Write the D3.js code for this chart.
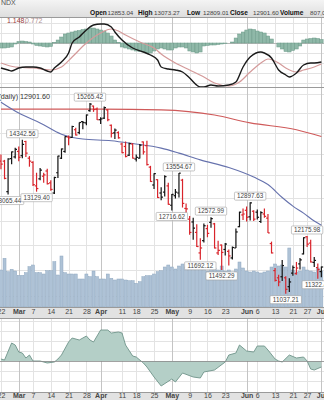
<!DOCTYPE html>
<html><head><meta charset="utf-8">
<script src="https://cdn.jsdelivr.net/npm/d3@7"></script>
<style>
html,body{margin:0;padding:0;background:#fff;overflow:hidden}
svg{display:block;font-family:"Liberation Sans",Arial,sans-serif}
</style></head><body>
<svg id="chart" width="324" height="400"></svg>
<script>
// Trading days shown (2022)
const days = [
 "02-22","02-23","02-24","02-25","02-28","03-01","03-02","03-03","03-04",
 "03-07","03-08","03-09","03-10","03-11","03-14","03-15","03-16","03-17","03-18",
 "03-21","03-22","03-23","03-24","03-25","03-28","03-29","03-30","03-31","04-01",
 "04-04","04-05","04-06","04-07","04-08","04-11","04-12","04-13","04-14",
 "04-18","04-19","04-20","04-21","04-22","04-25","04-26","04-27","04-28","04-29",
 "05-02","05-03","05-04","05-05","05-06","05-09","05-10","05-11","05-12","05-13",
 "05-16","05-17","05-18","05-19","05-20","05-23","05-24","05-25","05-26","05-27",
 "05-31","06-01","06-02","06-03","06-06","06-07","06-08","06-09","06-10",
 "06-13","06-14","06-15","06-16","06-17","06-21","06-22","06-23","06-24",
 "06-27","06-28","06-29","06-30","07-01"];

const priorClose = 13870;
const open = [13830,13830,13130,13890,13930,14060,13960,14300,13900,
 13800,13260,13420,13480,13600,13330,13100,13560,13900,14060,
 14410,14400,14590,14520,14790,14760,15070,15190,15110,14840,
 14880,15090,14700,14510,14520,14240,14180,13970,14240,
 13880,13900,14290,14200,13690,13280,13400,13100,13120,13260,
 12830,13040,13100,13390,12760,12530,12470,12250,11830,12080,
 12330,12460,12430,11830,11990,11900,11860,11730,11930,12370,
 12620,12720,12580,12700,12680,12480,12640,12550,12020,
 11480,11340,11360,11340,11170,11430,11420,11610,11810,
 12160,12030,11640,11540,11460];
const high = [13990,13860,13900,14060,14150,14180,14342.56,14320,13950,
 13830,13560,13670,13560,13650,13390,13470,13960,14130,14430,
 14450,14690,14640,14770,14810,14970,15265.42,15200,15150,14900,
 15180,15110,14720,14620,14550,14270,14300,14270,14260,
 13990,14240,14300,14320,13720,13550,13410,13230,13500,13330,
 13080,13190,13554.67,13420,12870,12600,12560,12420,12130,12440,
 12410,12572.99,12450,12080,12000,12030,11900,11960,12330,12690,
 12760,12800,12897.63,12720,12740,12700,12760,12640,12060,
 11530,11400,11690,11370,11330,11580,11650,11730,12150,
 12175.98,12100,11750,11620,11560];
const low = [13640,13410,13065.44,13760,13890,13830,13900,13930,13700,
 13260,13129.40,13390,13330,13290,13150,13080,13440,13880,14030,
 14210,14390,14450,14480,14600,14700,15040,15040,14830,14730,
 14860,14800,14400,14360,14370,14020,13920,13950,13890,
 13820,13890,13990,13730,13350,13190,12990,12940,13020,12840,
 12716.62,12980,13000,12780,12540,12200,12100,11950,11692.12,12040,
 12150,12350,11920,11790,11492.29,11780,11580,11700,11930,12360,
 12510,12480,12500,12490,12520,12450,12560,12240,11820,
 11270,11180,11280,11037.21,11070,11380,11400,11500,11800,
 11950,11640,11550,11322.42,11350];
const close = [13760,13430,13880,14050,14110,13920,14230,14020,13830,
 13290,13200,13620,13510,13310,13180,13450,13950,14120,14420,
 14390,14670,14460,14770,14770,14960,15240,15100,14840,14860,
 15150,14840,14500,14580,14390,14030,13940,14250,13900,
 13920,14210,14050,13750,13360,13540,13000,13010,13470,12850,
 13070,13120,13550,12870,12750,12250,12340,11960,11930,12390,
 12230,12540,11930,11880,11840,12010,11770,11940,12260,12680,
 12640,12570,12880,12530,12570,12670,12590,12240,11830,
 11290,11260,11580,11120,11260,11540,11530,11690,12140,
 12010,11650,11680,11500,11550];
const volume = [3700,4870,3530,3770,3600,3170,3170,3430,4030,
 4200,3430,3430,3300,3630,3630,4530,3200,5100,3430,
 3300,3300,3300,2800,2800,3300,3030,3600,3030,2800,
 2800,3300,2870,2700,2800,2800,2700,2630,2630,
 2370,2530,3030,3130,3130,3300,3530,3630,4000,4200,
 4000,3800,4100,4300,4000,4400,4200,4100,4300,3800,
 3600,3800,3900,3700,4100,3600,3700,3500,3800,4500,
 3900,3600,3500,3600,3500,3400,3500,3600,4000,
 4300,4100,4200,4000,5900,3700,3500,3600,4000,
 3700,3600,3500,3900,3600];

// Swing points that carry a value tag
const highTags = ["03-02","03-29","05-04","05-17","06-02","06-27"];
const lowTags = ["02-24","03-08","05-02","05-12","05-20","06-16","06-30"];

// Moving averages (50-day blue, 200-day red)
const ma50Days = ["02-22","03-01","03-09","03-17","03-25","04-06","04-14","04-27","05-04","05-12","05-24","06-03","06-09","06-15","06-21","06-24","06-29","07-01"];
const ma50 = [15290,15010,14760,14480,14360,14320,14250,14140,14020,13860,13680,13460,13290,13000,12810,12660,12490,12400];
const ma200Days = ["02-22","03-07","04-01","04-27","05-18","06-02","06-22","07-01"];
const ma200 = [15110,15110,15110,15090,14960,14760,14590,14420];

// PPO (12,26,9): line, signal and histogram
const ppoDays = ["02-22","02-24","02-25","03-01","03-03","03-07","03-09","03-11","03-14","03-15","03-17","03-21","03-22","03-24","03-28","03-30","04-01","04-04","04-06","04-07","04-11","04-14","04-20","04-22","04-26","04-27","04-29","05-03","05-05","05-09","05-12","05-13","05-17","05-19","05-24","05-26","05-31","06-02","06-07","06-08","06-10","06-14","06-16","06-17","06-22","06-24","06-28","06-29","07-01"];
const ppoLine = [-2.5,-2.7,-2.8,-2.5,-2.4,-2.4,-2.5,-2.8,-2.9,-2.5,-1.9,-1.0,0,0.6,1.3,1.8,1.9,1.9,1.6,1.1,0.3,-0.5,-0.9,-1.2,-1.7,-2.4,-2.6,-2.7,-2.9,-3.5,-4.4,-4.4,-4.2,-4.3,-4.2,-3.9,-2.4,-1.4,-0.9,-1.0,-1.5,-2.7,-3.2,-3.4,-3.0,-2.2,-2.0,-2.0,-1.9];
const sigDays = ["02-22","02-28","03-07","03-14","03-17","03-22","03-28","04-01","04-06","04-08","04-12","04-19","04-25","04-27","05-03","05-09","05-13","05-18","05-24","05-27","06-02","06-07","06-09","06-14","06-16","06-22","06-24","06-29","07-01"];
const sigLine = [-2.0,-2.4,-2.5,-2.7,-2.4,-1.4,0,1.0,1.4,1.2,0.8,0.1,-0.5,-1.1,-2.0,-2.7,-3.4,-4.0,-4.3,-3.9,-2.9,-2.0,-1.6,-2.0,-2.5,-2.9,-2.7,-2.4,-2.1];
const ppoHist = [-0.5,-0.5,-0.45,-0.4,-0.1,0.15,0.2,0.15,0.1,
 -0.1,-0.25,-0.3,-0.35,-0.4,-0.35,0.05,0.3,0.6,0.9,
 1.0,1.1,1.2,1.25,1.35,1.4,1.5,1.5,1.4,1.3,
 1.2,1.0,0.7,0.3,0.05,-0.4,-0.5,-0.6,-0.7,
 -0.8,-0.85,-0.9,-1.0,-1.0,-0.8,-0.6,-0.5,-0.6,-0.7,
 -0.7,-0.5,-0.4,-0.4,-0.5,-0.8,-0.9,-1.0,-0.9,-0.3,
 -0.25,-0.2,-0.2,-0.15,-0.1,-0.05,0,0.1,0.5,0.9,
 1.1,1.3,1.4,1.35,1.2,1.1,1.0,0.7,0.4,
 0,-0.4,-0.6,-0.85,-0.9,-0.75,-0.6,-0.3,0.3,
 0.4,0.45,0.5,0.45,0.35];

// Lower oscillator
const oscDays = ["02-22","02-23","02-25","02-28","03-01","03-02","03-03","03-04","03-07","03-09","03-11","03-15","03-16","03-17","03-21","03-22","03-24","03-28","03-29","03-30","04-01","04-05","04-06","04-08","04-11","04-12","04-14","04-18","04-20","04-21","04-25","04-27","05-02","05-03","05-05","05-10","05-12","05-13","05-18","05-23","05-24","05-26","05-27","06-01","06-03","06-06","06-08","06-09","06-13","06-14","06-15","06-17","06-22","06-24","06-27","06-28","06-29","07-01"];
const oscVals = [0.2,0.1,1.8,1.6,0.9,0.8,0.3,0.6,0,0,-0.2,-0.1,0.2,0.6,1.9,2.3,2.1,2.5,2.1,1.9,3.1,3.1,2.8,2.9,2.8,1.6,0.5,0.4,-0.2,-0.6,-1.6,-2.5,-1.8,-2.1,-1.2,-1.6,-1.7,-1.1,-0.9,-0.1,0.6,0.8,1.6,1.0,0.9,1.5,1.5,1.1,0.2,0,-0.1,0.6,0.3,0.4,0,-0.8,-0.9,-0.6];

// Date axis labels
const tickDays = ["02-22","03-01","03-07","03-14","03-21","03-28","04-01","04-11","04-18","04-25","05-02","05-09","05-16","05-23","06-01","06-06","06-13","06-21","06-27","07-01"];
const tickText = ["22","Mar","7","14","21","28","Apr","11","18","25","May","9","16","23","Jun","6","13","21","27","Jul"];
const monthTicks = ["Mar","Apr","May","Jun","Jul"];

const svg = d3.select("#chart");
const W = 324;
const P = {ppo:[17,87], price:[87,307], osc:[318,392]};

const x = d3.scalePoint().domain(days).range([0.96, 321.36]);
const yP = d3.scaleLog().domain([10790, 15690]).range([307, 87]);
const yV = d3.scaleLinear().domain([0, 12000]).range([307, 187]);
const yM = d3.scaleLinear().domain([-4.5, 2.6]).range([88, 17]);
const yO = d3.scaleLinear().domain([-3.1, 4.3]).range([392, 318]);

const defs = svg.append("defs");
const hdr = defs.append("linearGradient").attr("id","hdr").attr("x1",0).attr("y1",0).attr("x2",0).attr("y2",1);
hdr.append("stop").attr("offset","0%").attr("stop-color","#f4f4f4");
hdr.append("stop").attr("offset","100%").attr("stop-color","#dedede");
Object.entries(P).forEach(([k,[a,b]]) => {
  defs.append("clipPath").attr("id","clip-"+k).append("rect").attr("x",0).attr("y",a).attr("width",W).attr("height",b-a);
});

// header and axis strips
svg.append("rect").attr("x",0).attr("y",0).attr("width",W).attr("height",17).attr("fill","url(#hdr)");
svg.append("rect").attr("x",0).attr("y",307).attr("width",W).attr("height",11).attr("fill","#e2e2e2");
svg.append("rect").attr("x",0).attr("y",392).attr("width",W).attr("height",8).attr("fill","#e2e2e2");

// grid
function vgrid(panel){
  const [a,b] = P[panel];
  svg.append("g").selectAll("line").data(tickDays).join("line")
    .attr("x1",d=>Math.round(x(d))+0.5).attr("x2",d=>Math.round(x(d))+0.5)
    .attr("y1",a).attr("y2",b)
    .attr("stroke",(d,i)=>monthTicks.includes(tickText[i]) ? "#c4c4c4" : "#e3e3e3")
    .attr("stroke-width",1);
}
function hgrid(scale, vals, panel){
  svg.append("g").attr("clip-path",`url(#clip-${panel})`).selectAll("line").data(vals).join("line")
    .attr("x1",0).attr("x2",W)
    .attr("y1",d=>Math.round(scale(d))+0.5).attr("y2",d=>Math.round(scale(d))+0.5)
    .attr("stroke","#e3e3e3");
}
hgrid(yM, [-4,-3,-2,-1,1,2], "ppo"); vgrid("ppo");
hgrid(yP, d3.range(11000, 15700, 500), "price"); vgrid("price");
hgrid(yO, [-2,-1,1,2,3,4], "osc"); vgrid("osc");

// panel borders
[17,87,307,318,392].forEach(yy => svg.append("line").attr("x1",0).attr("x2",W).attr("y1",yy+0.5).attr("y2",yy+0.5).attr("stroke","#9a9a9a"));

// ---- PPO panel
const gM = svg.append("g").attr("clip-path","url(#clip-ppo)");
gM.append("line").attr("x1",0).attr("x2",W).attr("y1",Math.round(yM(0))+0.5).attr("y2",Math.round(yM(0))+0.5).attr("stroke","#b8b8b8");
gM.selectAll("rect.h").data(days).join("rect")
  .attr("x",d=>x(d)-1.78).attr("width",3.56)
  .attr("y",(d,i)=>Math.min(yM(0),yM(ppoHist[i])))
  .attr("height",(d,i)=>Math.abs(yM(ppoHist[i])-yM(0)))
  .attr("fill","#8fb8a8").attr("stroke","#6d9a89").attr("stroke-width",0.5);
const lineM = (ds, vs) => d3.line().x((d,i)=>x(ds[i])).y((d,i)=>yM(vs[i])).curve(d3.curveMonotoneX)(vs);
gM.append("path").attr("d",lineM(sigDays,sigLine)).attr("fill","none").attr("stroke","#d49a9a").attr("stroke-width",1.2);
gM.append("path").attr("d",lineM(ppoDays,ppoLine)).attr("fill","none").attr("stroke","#1a1a1a").attr("stroke-width",1.4);

svg.append("text").attr("x",7).attr("y",23).attr("font-size",7).attr("fill","#9b3c3c").text("1.148,");
svg.append("text").attr("x",25).attr("y",23).attr("font-size",7).attr("fill","#b09090").text("0.772");

// ---- Price panel
const gP = svg.append("g").attr("clip-path","url(#clip-price)");
gP.selectAll("rect.v").data(days).join("rect")
  .attr("x",d=>x(d)-1.5).attr("width",3)
  .attr("y",(d,i)=>yV(volume[i])).attr("height",(d,i)=>yV(0)-yV(volume[i]))
  .attr("fill","#aec2d6").attr("stroke","#8fa8c0").attr("stroke-width",0.5);

const lineP = (ds, vs) => d3.line().x((d,i)=>x(ds[i])).y((d,i)=>yP(vs[i])).curve(d3.curveMonotoneX)(vs);
gP.append("path").attr("d",lineP(ma200Days,ma200)).attr("fill","none").attr("stroke","#cf5a5a").attr("stroke-width",1.1);
gP.append("path").attr("d",lineP(ma50Days,ma50)).attr("fill","none").attr("stroke","#6672ad").attr("stroke-width",1.1);

const bars = gP.append("g").selectAll("g").data(days).join("g")
  .attr("stroke",(d,i)=>close[i] >= (i ? close[i-1] : priorClose) ? "#111" : "#d9242b")
  .attr("stroke-width",1.2);
bars.append("line").attr("x1",d=>x(d)).attr("x2",d=>x(d)).attr("y1",(d,i)=>yP(high[i])).attr("y2",(d,i)=>yP(low[i]));
bars.append("line").attr("x1",d=>x(d)-1.8).attr("x2",d=>x(d)).attr("y1",(d,i)=>yP(open[i])).attr("y2",(d,i)=>yP(open[i]));
bars.append("line").attr("x1",d=>x(d)).attr("x2",d=>x(d)+1.8).attr("y1",(d,i)=>yP(close[i])).attr("y2",(d,i)=>yP(close[i]));

function tag(day, val, above){
  const cx = x(day), t = val.toFixed(2);
  const w = t.length*3.55 + 3, h = 8;
  const yy = above ? yP(val) - 2 - h : yP(val) + 2;
  const g = gP.append("g");
  g.append("rect").attr("x",cx-w/2).attr("y",yy).attr("width",w).attr("height",h)
    .attr("fill","#fff").attr("stroke","#a0a0a0").attr("stroke-width",0.6).attr("rx",1);
  g.append("text").attr("x",cx).attr("y",yy+6.3).attr("text-anchor","middle")
    .attr("font-size",6.3).attr("fill","#444").text(t);
}
highTags.forEach(d => { const i = days.indexOf(d); tag(d, high[i], true); });
lowTags.forEach(d => { const i = days.indexOf(d); tag(d, low[i], false); });

svg.append("text").attr("x",50).attr("y",99).attr("text-anchor","end").attr("font-size",7.2).attr("fill","#333")
  .text("$NDX (daily) 12901.60");

// ---- Oscillator panel
const gO = svg.append("g").attr("clip-path","url(#clip-osc)");
gO.append("path")
  .attr("d", d3.area().x((d,i)=>x(oscDays[i])).y0(yO(0)).y1(d=>yO(d))(oscVals))
  .attr("fill","#b4cfc7");
gO.append("path")
  .attr("d", d3.line().x((d,i)=>x(oscDays[i])).y(d=>yO(d))(oscVals))
  .attr("fill","none").attr("stroke","#6f948a").attr("stroke-width",0.9);
gO.append("line").attr("x1",0).attr("x2",W).attr("y1",Math.round(yO(0))+0.5).attr("y2",Math.round(yO(0))+0.5).attr("stroke","#8a8a8a").attr("stroke-width",0.8);

// ---- date axes
function dateAxis(yy){
  const ax = d3.axisBottom(x).tickValues(tickDays).tickSize(0).tickPadding(0)
    .tickFormat(d => tickText[tickDays.indexOf(d)]);
  const g = svg.append("g").attr("transform",`translate(0,${yy})`).call(ax);
  g.select(".domain").remove();
  g.selectAll("text").attr("font-size",7).attr("font-family","Liberation Sans, Arial, sans-serif")
    .attr("fill","#444").attr("dy","0.71em")
    .attr("font-weight",d=>monthTicks.includes(tickText[tickDays.indexOf(d)]) ? "bold" : "normal");
}
dateAxis(309.5);
dateAxis(393.5);

// ---- header line
svg.append("text").attr("x",1).attr("y",5).attr("font-size",7).attr("fill","#555").text("NDX");
const head = svg.append("text").attr("y",14.5).attr("fill","#333");
[["Open",90,true],["12853.04",107.5,false],["High",138,true],["13073.27",154,false],
 ["Low",187,true],["12809.01",203,false],["Close",230,true],["12901.60",253,false],
 ["Volume",280,true],["807,012,432",310,false]].forEach(([t,xx,b]) => {
  head.append("tspan").attr("x",xx).attr("font-weight",b?"bold":"normal")
    .attr("fill",b?"#111":"#444").attr("font-size",b?6.6:6.2).text(t);
});
</script>
</body></html>
